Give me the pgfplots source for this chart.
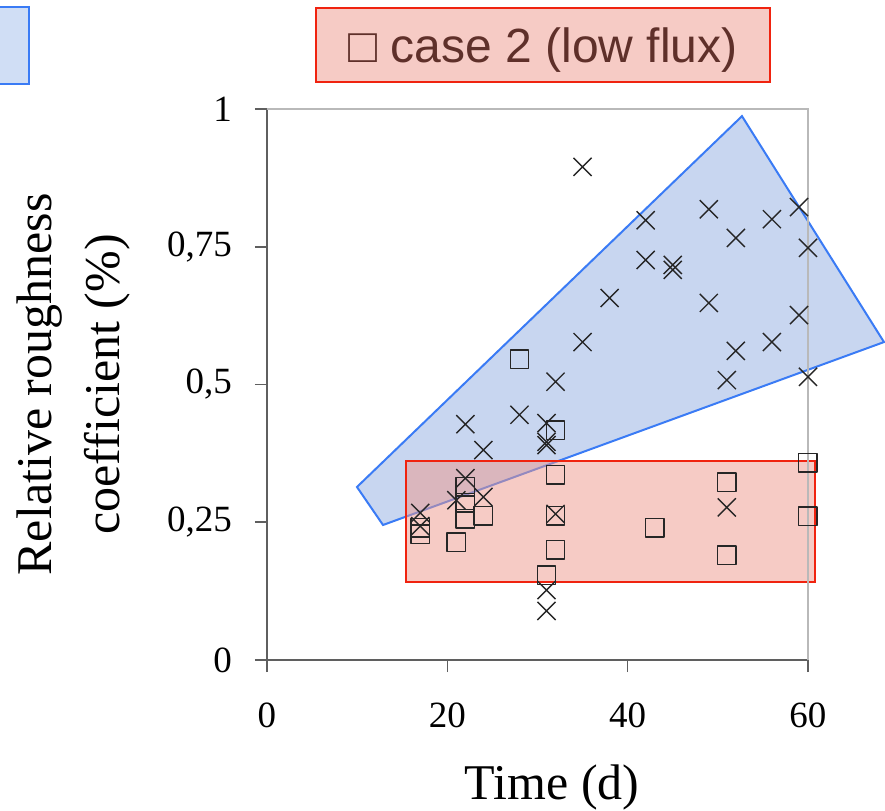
\documentclass[border=0pt]{standalone}
\usepackage{fontspec}
\setmainfont{Liberation Serif}
\newfontfamily\sansfont{Liberation Sans}
\usepackage{pgfplots}
\pgfplotsset{compat=1.18}

\definecolor{boxblue}{RGB}{145,173,225}
\definecolor{edgeblue}{RGB}{58,123,245}
\definecolor{boxred}{RGB}{237,151,139}
\definecolor{edgered}{RGB}{240,35,15}
\definecolor{legtext}{RGB}{95,48,42}
\definecolor{spine}{RGB}{95,95,95}
\definecolor{frameg}{RGB}{185,185,185}

\begin{document}
\begin{tikzpicture}
\begin{axis}[
    scale only axis,
    width=270.5pt, height=275.5pt,
    xmin=0, xmax=60, ymin=0, ymax=1,
    clip=false,
    axis x line*=bottom, axis y line*=left,
    axis line style={spine, line width=0.8pt},
    tick style={spine, line width=0.8pt},
    tick align=outside,
    major tick length=6pt,
    xtick={0,20,40,60},
    ytick={0,0.25,0.5,0.75,1},
    yticklabels={0,{0,25},{0,5},{0,75},1},
    xticklabels={0,20,40,60},
    tick label style={font=\fontsize{18.5}{20}\selectfont},
    xticklabel shift=12pt,
    yticklabel shift=8pt,
    xlabel={Time (d)},
    ylabel={Relative roughness\\coefficient (\%)},
    label style={font=\fontsize{25}{34}\selectfont},
    xlabel style={at={(axis description cs:0.527,-0.2523)}, anchor=base},
    ylabel style={at={(axis description cs:-0.357,0.5)}, anchor=center, align=center},
]
% case 1 (crosses)
\addplot[only marks, mark=x, mark size=6.4pt, mark options={black!85, line width=0.7pt}]
coordinates {
(35,0.895) (42,0.798) (49,0.818) (56,0.800) (59,0.822) (52,0.766) (60,0.748)
(42,0.726) (45,0.717) (45,0.708) (38,0.657) (49,0.648) (59,0.626) (35,0.577)
(52,0.561) (56,0.577) (51,0.508) (60,0.514) (32,0.505) (28,0.445) (31,0.430)
(22,0.428) (31,0.396) (31,0.390) (24,0.381) (22,0.330) (21,0.290) (24,0.296)
(17,0.267) (17,0.243) (32,0.265) (31,0.127) (31,0.089) (51,0.277)
};
% case 2 (squares)
\addplot[only marks, mark=square, mark size=4.6pt, mark options={black!85, line width=0.7pt, line join=round}]
coordinates {
(28,0.546) (32,0.417) (32,0.336) (32,0.262) (32,0.200) (31,0.154) (22,0.314)
(22,0.285) (22,0.256) (24,0.262) (17,0.240) (17,0.228) (21,0.214) (43,0.240)
(51,0.323) (51,0.190) (60,0.358) (60,0.261)
};
% highlighted regions
\addplot[draw=edgeblue, line width=1pt, fill=boxblue, fill opacity=0.5]
coordinates {(9.98,0.314) (12.87,0.245) (68.43,0.577) (52.68,0.987)} -- cycle;
\addplot[draw=edgered, line width=1pt, fill=boxred, fill opacity=0.5]
coordinates {(15.42,0.361) (60.78,0.361) (60.78,0.1416) (15.42,0.1416)} -- cycle;

% top and right frame
\draw[frameg, line width=0.8pt] (rel axis cs:0,1) -- (rel axis cs:1,1) -- (rel axis cs:1,0);

% legend boxes above the plot
\draw[draw=edgeblue, line width=1pt, fill={rgb,255:red,208;green,222;blue,245}]
  (axis cs:-40,1.185) rectangle (axis cs:-26.4,1.045);
\draw[draw=edgered, line width=1pt, fill={rgb,255:red,246;green,203;blue,197}]
  (axis cs:5.43,1.183) rectangle (axis cs:55.79,1.049);
\node[text=legtext, font=\sansfont\fontsize{24}{26}\selectfont, anchor=base]
  at (axis cs:30.6,1.0836) {□ case 2 (low flux)};

\coordinate (bbll) at (axis cs:-29.61,-0.274);
\coordinate (bbur) at (axis cs:68.54,1.1978);
\end{axis}
\pgfresetboundingbox
\useasboundingbox (bbll) rectangle (bbur);
\end{tikzpicture}
\end{document}
